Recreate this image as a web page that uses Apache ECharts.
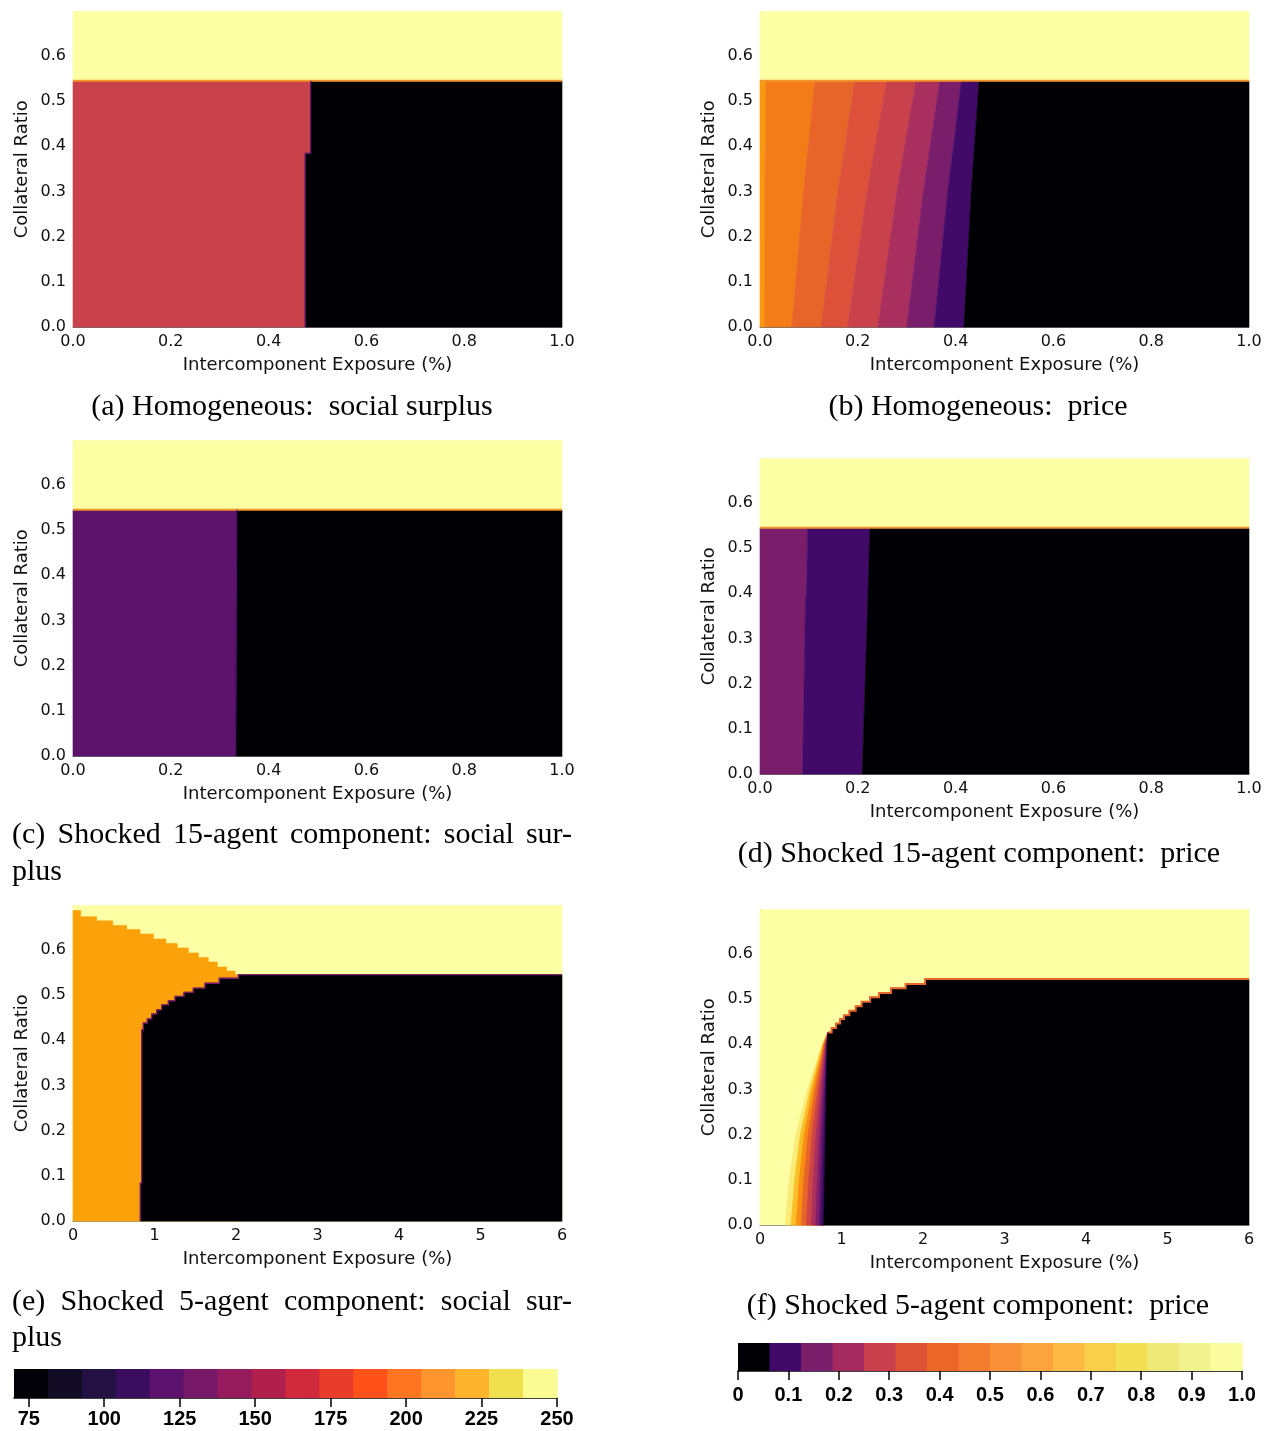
<!DOCTYPE html>
<html><head><meta charset="utf-8">
<script src="https://cdn.jsdelivr.net/npm/echarts@6/dist/echarts.min.js"></script>
<style>html,body{margin:0;padding:0;background:#fff}#c{width:1270px;height:1431px}</style>
</head><body><div id="c"></div>
<script>
// ---------------- DATA ----------------
const Y_MAX = 0.698;          // top of the collateral-ratio axis
const TOP_Y = 0.545;          // collateral ratio above which no default occurs

// (a) Homogeneous: social surplus  [above boundary, left region, right region]
const aSurplus = [250, 169.5, 75];
const aEdgeY = [0, 0.384, 0.384, 0.545];
const aEdgeX = [0.475, 0.475, 0.486, 0.486];

// (b) Homogeneous: price  [above boundary, bands left->right ..., right region]
const bPrice = [1.0, 0.77, 0.71, 0.65, 0.60, 0.54, 0.45, 0.34, 0.20, 0.0];
const bEdgeY = [0, 0.3, 0.545];
const bEdgeX = [
  [0.009, 0.010, 0.012],
  [0.065, 0.089, 0.1125],
  [0.125, 0.159, 0.194],
  [0.179, 0.219, 0.259],
  [0.241, 0.280, 0.319],
  [0.300, 0.334, 0.368],
  [0.356, 0.384, 0.412],
  [0.417, 0.432, 0.448]
];

// (c) Shocked 15-agent component: social surplus
const cSurplus = [250, 122, 75];
const cEdgeY = [0, 0.545];
const cEdgeX = [0.333, 0.335];

// (d) Shocked 15-agent component: price
const dPrice = [1.0, 0.34, 0.20, 0.0];
const dEdgeY = [0, 0.39, 0.40, 0.545];
const dEdge1X = [0.087, 0.093, 0.095, 0.0975];
const dEdge2X = [0.209, 0.2205, 0.2207, 0.225];

// (e) Shocked 5-agent component: social surplus  [background, middle region, default region]
const eSurplus = [250, 214, 75];
const eUpperX = [0, 0.094, 0.29, 0.487, 0.659, 0.822, 0.986, 1.141, 1.28, 1.415, 1.538, 1.66, 1.77, 1.886, 1.988, 2.03];
const eUpperY = [0.687, 0.673, 0.664, 0.654, 0.645, 0.635, 0.624, 0.614, 0.604, 0.593, 0.583, 0.573, 0.562, 0.553, 0.545];
const eWallX = [0.826, 0.826, 0.843, 0.843];
const eWallY = [0, 0.084, 0.084, 0.423];
const eLowerX = [0.843, 0.863, 0.912, 0.966, 1.027, 1.088, 1.170, 1.252, 1.362, 1.476, 1.620, 1.795, 2.029];
const eLowerY = [0.423, 0.438, 0.447, 0.458, 0.467, 0.478, 0.487, 0.497, 0.506, 0.515, 0.526, 0.537, 0.545];

// (f) Shocked 5-agent component: price
const fPriceOuter = [1.0, 0.0];   // background, default region
const fBandPrice = [0.95, 0.85, 0.75, 0.65, 0.55, 0.45, 0.35, 0.25, 0.15];
const fGradY = [0, 0.1, 0.2, 0.3, 0.4, 0.426];
const fContourX = [
  [0.310, 0.360, 0.440, 0.580, 0.760, 0.830],
  [0.381, 0.425, 0.495, 0.615, 0.770, 0.831],
  [0.443, 0.482, 0.542, 0.646, 0.778, 0.832],
  [0.505, 0.538, 0.590, 0.677, 0.787, 0.833],
  [0.569, 0.597, 0.639, 0.709, 0.796, 0.834],
  [0.631, 0.654, 0.687, 0.740, 0.805, 0.835],
  [0.685, 0.704, 0.729, 0.766, 0.812, 0.836],
  [0.728, 0.743, 0.762, 0.788, 0.818, 0.837],
  [0.761, 0.773, 0.788, 0.804, 0.823, 0.8376]
];
const fWallX = [0.785, 0.795, 0.806, 0.816, 0.826, 0.838];
const fStepX = [0.838, 0.879, 0.933, 0.982, 1.031, 1.096, 1.174, 1.247, 1.350, 1.460, 1.607, 1.787, 2.025];
const fStepY = [0.426, 0.436, 0.446, 0.456, 0.464, 0.474, 0.484, 0.494, 0.504, 0.513, 0.524, 0.533, 0.544];

// colour bars
const surplusBarRange = [70.1, 250];
const surplusBarTicks = [75, 100, 125, 150, 175, 200, 225, 250];
const priceBarRange = [0, 1];

// ---------------- STYLES ----------------
const INFERNO = ['#000004','#160b39','#420a68','#6a176e','#932667','#bc3754','#dd513a','#f37819','#fca50a','#f6d746','#fcffa4'];
const surplusBarColors = ['#020108','#110c24','#231143','#3b0d5e','#5d126e','#781868','#951b5d','#b11f4c','#d02a3c','#e93c2a','#fe521a','#ff7522','#fe952e','#feb52d','#f0e04e','#fbfb94'];
const priceBarColors = ['#000004','#420a68','#7a1e6c','#a4295e','#c93f4b','#de5236','#ec6628','#f47c2e','#f89038','#fba43e','#fcba45','#f8cf4b','#f2df54','#efe97a','#f2f38f','#fbfc9f'];
const AX = '#6e6e6e', TXT = '#111';

// ---------------- GEOMETRY BUILT FROM DATA ----------------
const zip = (xs, ys) => xs.map((x, i) => [x, ys[i]]);
const rev = a => a.slice().reverse();
function steps(xs, ys, xEnd) { // staircase: level ys[i] from xs[i] to xs[i+1] (or xEnd)
  const out = [];
  ys.forEach((y, i) => { out.push([xs[i], y]); out.push([i + 1 < xs.length ? xs[i + 1] : xEnd, y]); });
  return out;
}

const topRect = xm => [[0, TOP_Y], [xm, TOP_Y], [xm, Y_MAX], [0, Y_MAX]];
const fullRect = xm => [[0, 0], [xm, 0], [xm, Y_MAX], [0, Y_MAX]];

// (a)
const aEdge = zip(aEdgeX, aEdgeY);
const polysA = [topRect(1), [[0, 0], ...aEdge, [0, TOP_Y]], [...aEdge, [1, TOP_Y], [1, 0]]];
// (b)
const bEdges = bEdgeX.map(xs => zip(xs, bEdgeY));
const polysB = [topRect(1), [[0, 0], ...bEdges[0], [0, TOP_Y]]];
for (let k = 1; k < bEdges.length; k++) polysB.push([...bEdges[k - 1], ...rev(bEdges[k])]);
polysB.push([...bEdges[bEdges.length - 1], [1, TOP_Y], [1, 0]]);
// (c)
const cEdge = zip(cEdgeX, cEdgeY);
const polysC = [topRect(1), [[0, 0], ...cEdge, [0, TOP_Y]], [...cEdge, [1, TOP_Y], [1, 0]]];
// (d)
const dE1 = zip(dEdge1X, dEdgeY), dE2 = zip(dEdge2X, dEdgeY);
const polysD = [topRect(1), [[0, 0], ...dE1, [0, TOP_Y]], [...dE1, ...rev(dE2)], [...dE2, [1, TOP_Y], [1, 0]]];
// (e)
const eUpper = steps(eUpperX, eUpperY, eUpperX[eUpperX.length - 1]).slice(0, 2 * eUpperY.length);
const eBlackEdge = [...zip(eWallX, eWallY), ...steps(eLowerX, eLowerY, 6)];
const polysE = [fullRect(6), [[0, 0], ...eUpper, [eUpperX[eUpperX.length - 1], 0]], [...eBlackEdge, [6, 0]]];
// (f)
const fWall = zip(fWallX, fGradY);
const polysF = [fullRect(6)];
fContourX.forEach(xs => polysF.push([...zip(xs, fGradY), ...rev(fWall)]));
const fBlackEdge = [...fWall, ...steps(fStepX, fStepY, 6)];
polysF.push([...fBlackEdge, [6, 0]]);

const panels = [
  { g: 0, xMax: 1, polys: polysA, vals: aSurplus, vm: 0,
    lines: [{ pts: [[0, TOP_Y], [1, TOP_Y]], c: '#f3962a', w: 2 }, { pts: aEdge, c: '#5a1670', w: 1.2 }] },
  { g: 1, xMax: 1, polys: polysB, vals: bPrice, vm: 1,
    lines: [{ pts: [[0, TOP_Y], [1, TOP_Y]], c: '#f3962a', w: 2 }] },
  { g: 2, xMax: 1, polys: polysC, vals: cSurplus, vm: 0,
    lines: [{ pts: [[0, TOP_Y], [1, TOP_Y]], c: '#f3962a', w: 2 }, { pts: cEdge, c: '#4a1070', w: 1 }] },
  { g: 3, xMax: 1, polys: polysD, vals: dPrice, vm: 1,
    lines: [{ pts: [[0, TOP_Y], [1, TOP_Y]], c: '#f3962a', w: 2 }] },
  { g: 4, xMax: 6, polys: polysE, vals: eSurplus, vm: 0,
    lines: [{ pts: eBlackEdge, c: '#7a1e6c', w: 1.3 }] },
  { g: 5, xMax: 6, polys: polysF, vals: [fPriceOuter[0], ...fBandPrice, fPriceOuter[1]], vm: 1,
    lines: [{ pts: steps(fStepX, fStepY, 6), c: '#e8662a', w: 2 }] }
];

// ---------------- CHART ----------------
const gridPos = [
  { left: 73, top: 11.5 }, { left: 760, top: 11.5 },
  { left: 73, top: 440.5 }, { left: 760, top: 458.5 },
  { left: 73, top: 905.5 }, { left: 760, top: 909.5 }
];
const grid = gridPos.map(p => ({ left: p.left, top: p.top, width: 489, height: 315.5, outerBoundsMode: 'none' }));
grid.push({ left: 14, top: 1369, width: 543, height: 29, outerBoundsMode: 'none' });
grid.push({ left: 738, top: 1343, width: 504, height: 28, outerBoundsMode: 'none' });

const xAxis = [], yAxis = [], series = [];
const vmSeries = [[], []];
panels.forEach(p => {
  xAxis.push({
    type: 'value', gridIndex: p.g, min: 0, max: p.xMax, interval: p.xMax === 1 ? 0.2 : 1,
    axisLine: { show: true, onZero: false, lineStyle: { color: AX, width: 1 } },
    axisTick: { show: false }, splitLine: { show: false },
    axisLabel: { fontFamily: 'DejaVu Sans', fontSize: 16, color: TXT, margin: 7,
      formatter: v => p.xMax === 1 ? v.toFixed(1) : String(Math.round(v)) },
    name: 'Intercomponent Exposure (%)', nameLocation: 'middle', nameGap: 29,
    nameTextStyle: { fontFamily: 'DejaVu Sans', fontSize: 18, color: TXT }
  });
  yAxis.push({
    type: 'value', gridIndex: p.g, min: 0, max: Y_MAX, interval: 0.1,
    axisLine: { show: true, onZero: false, lineStyle: { color: AX, width: 1 } },
    axisTick: { show: false }, splitLine: { show: false },
    axisLabel: { fontFamily: 'DejaVu Sans', fontSize: 16, color: TXT, margin: 7, showMaxLabel: false,
      formatter: v => v.toFixed(1) },
    name: 'Collateral Ratio', nameLocation: 'middle', nameGap: 42,
    nameTextStyle: { fontFamily: 'DejaVu Sans', fontSize: 18, color: TXT }
  });
  vmSeries[p.vm].push(series.length);
  series.push({
    type: 'custom', coordinateSystem: 'cartesian2d', xAxisIndex: p.g, yAxisIndex: p.g,
    silent: true, animation: false, z: 2,
    data: p.vals.map((v, i) => [i, v]),
    renderItem: (params, api) => {
      const pts = p.polys[api.value(0)].map(q => api.coord(q));
      const fill = api.visual('color');
      return { type: 'polygon', shape: { points: pts }, style: { fill, stroke: fill, lineWidth: 0.6 } };
    }
  });
  series.push({
    type: 'custom', coordinateSystem: 'cartesian2d', xAxisIndex: p.g, yAxisIndex: p.g,
    silent: true, animation: false, z: 3,
    data: p.lines.map((l, i) => [i, 0]),
    renderItem: (params, api) => {
      const l = p.lines[api.value(0)];
      return { type: 'polyline', shape: { points: l.pts.map(q => api.coord(q)) },
        style: { stroke: l.c, lineWidth: l.w, fill: null } };
    }
  });
});

// colour bars
function barAxes(gi, range, ticks, fmt, isPrice, margin) {
  const lab = { fontFamily: 'Liberation Sans', fontWeight: 'bold', fontSize: 20, color: '#000', margin, formatter: fmt };
  const tick = { show: true, length: 9, lineStyle: { color: '#000', width: 1.5 } };
  if (ticks) { lab.customValues = ticks; tick.customValues = ticks; }
  xAxis.push(Object.assign({
    type: 'value', gridIndex: gi, min: range[0], max: range[1], position: 'bottom',
    axisLine: { show: true, onZero: false, lineStyle: { color: '#000', width: 1.5 } },
    axisTick: tick, splitLine: { show: false }, axisLabel: lab
  }, isPrice ? { interval: 0.1 } : {}));
  yAxis.push({ type: 'value', gridIndex: gi, min: 0, max: 1, show: false });
}
barAxes(6, surplusBarRange, surplusBarTicks, v => String(Math.round(v)), false, 11);
barAxes(7, priceBarRange, null, v => (Math.abs(v) < 1e-9 ? '0' : (Math.round(v * 10) / 10).toFixed(1)), true, 14);

function barSeries(gi, range, colors) {
  const step = (range[1] - range[0]) / colors.length;
  series.push({
    type: 'custom', coordinateSystem: 'cartesian2d', xAxisIndex: gi, yAxisIndex: gi,
    silent: true, animation: false,
    data: colors.map((c, i) => [i, 0]),
    renderItem: (params, api) => {
      const i = api.value(0);
      const a = api.coord([range[0] + i * step, 1]);
      const b = api.coord([range[0] + (i + 1) * step, 0]);
      return { type: 'rect', shape: { x: a[0], y: a[1], width: b[0] - a[0] + 0.6, height: b[1] - a[1] },
        style: { fill: colors[i] } };
    }
  });
}
barSeries(6, surplusBarRange, surplusBarColors);
barSeries(7, priceBarRange, priceBarColors);

// captions
const CAP_FONT = '30px "Liberation Serif"';
const mctx = document.createElement('canvas').getContext('2d');
function capCentered(text, x, y) {
  return { type: 'text', x, y, silent: true, style: { text, font: CAP_FONT, fill: '#000', align: 'center', verticalAlign: 'middle' } };
}
function capLeft(text, x, y) {
  return { type: 'text', x, y, silent: true, style: { text, font: CAP_FONT, fill: '#000', align: 'left', verticalAlign: 'middle' } };
}
function capJustified(text, x0, x1, y) {
  mctx.font = CAP_FONT;
  const words = text.split(' ');
  const ws = words.map(w => mctx.measureText(w).width);
  const gap = (x1 - x0 - ws.reduce((s, w) => s + w, 0)) / (words.length - 1);
  let x = x0;
  return words.map((w, i) => { const el = capLeft(w, x, y); x += ws[i] + gap; return el; });
}
const graphic = [
  capCentered('(a) Homogeneous:  social surplus', 292, 407),
  capCentered('(b) Homogeneous:  price', 978, 407),
  ...capJustified('(c) Shocked 15-agent component: social sur-', 12, 572, 835),
  capLeft('plus', 12, 872),
  capCentered('(d) Shocked 15-agent component:  price', 979, 854),
  ...capJustified('(e) Shocked 5-agent component: social sur-', 12, 572, 1302),
  capLeft('plus', 12, 1338),
  capCentered('(f) Shocked 5-agent component:  price', 978, 1306)
];

const chart = echarts.init(document.getElementById('c'), null, { renderer: 'canvas' });
chart.setOption({
  backgroundColor: '#fff',
  animation: false,
  grid, xAxis, yAxis, series, graphic,
  visualMap: [
    { type: 'continuous', show: false, min: 75, max: 250, dimension: 1, seriesIndex: vmSeries[0], inRange: { color: INFERNO } },
    { type: 'continuous', show: false, min: 0, max: 1, dimension: 1, seriesIndex: vmSeries[1], inRange: { color: INFERNO } }
  ]
});
</script></body></html>
